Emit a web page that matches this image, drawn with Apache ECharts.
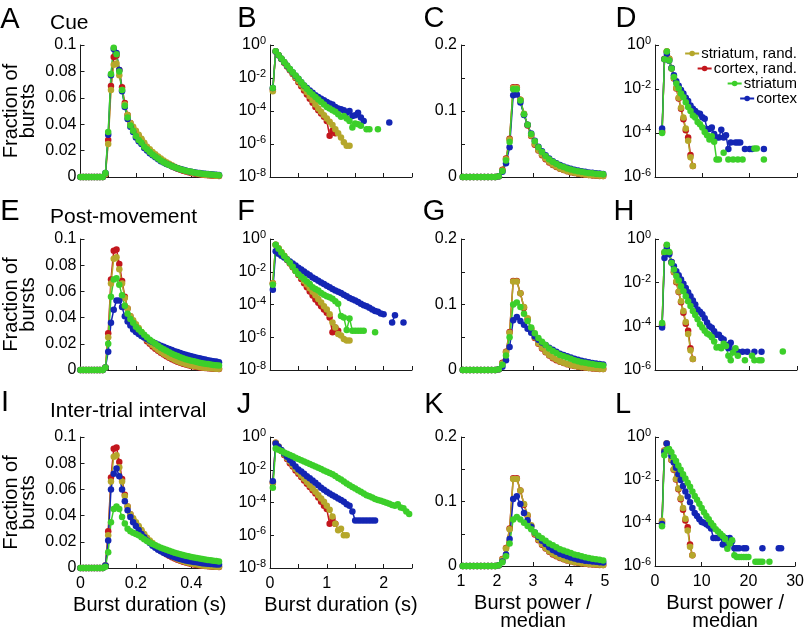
<!DOCTYPE html>
<html><head><meta charset="utf-8">
<script src="https://cdn.jsdelivr.net/npm/echarts@6/dist/echarts.min.js"></script>
<style>html,body{margin:0;padding:0;background:#fff}#c{width:807px;height:632px}</style>
</head><body><div id="c"></div>
<script>
// ---------- categories / names ----------
const seriesNames = ['striatum, rand.', 'cortex, rand.', 'striatum', 'cortex'];
const panelLetters = ['A','B','C','D','E','F','G','H','I','J','K','L'];
const rowTitles = ['Cue', 'Post-movement', 'Inter-trial interval'];
const xNames = ['Burst duration (s)', 'Burst duration (s)', 'Burst power /\nmedian', 'Burst power /\nmedian'];
const yName = 'Fraction of\nbursts';

// ---------- x grids ----------
const durX = [0,0.01,0.02,0.03,0.04,0.05,0.06,0.07,0.08,0.09,0.1,0.11,0.12,0.13,0.14,0.15,0.16,0.17,0.18,0.19,0.2,0.21,0.22,0.23,0.24,0.25,0.26,0.27,0.28,0.29,0.3,0.31,0.32,0.33,0.34,0.35,0.36,0.37,0.38,0.39,0.4,0.41,0.42,0.43,0.44,0.45,0.46,0.47,0.48,0.49,0.5];
const logDurX = [0.05,0.1,0.15,0.2,0.25,0.3,0.35,0.4,0.45,0.5,0.55,0.6,0.65,0.7,0.75,0.8,0.85,0.9,0.95,1,1.05,1.1,1.15,1.2,1.25,1.3,1.35,1.4,1.45,1.5,1.55,1.6,1.65,1.7,1.75,1.8,1.85,1.9,1.95,2,2.05,2.1,2.15,2.2,2.25,2.3,2.35,2.4,2.45];
const powX = [1.05,1.15,1.25,1.35,1.45,1.55,1.65,1.75,1.85,1.95,2.05,2.15,2.25,2.35,2.45,2.55,2.65,2.75,2.85,2.95,3.05,3.15,3.25,3.35,3.45,3.55,3.65,3.75,3.85,3.95,4.05,4.15,4.25,4.35,4.45,4.55,4.65,4.75,4.85,4.95];
const powLogX = [1.5,2,2.5,3,3.5,4,4.5,5,5.5,6,6.5,7,7.5,8,8.5,9,9.5,10,10.5,11,11.5,12,12.5,13,13.5,14,14.5,15,15.5,16,16.5,17,17.5,18,18.5,19,19.5,20,20.5,21,21.5,22,22.5,23,23.5,24,24.5,25,25.5,26,26.5,27,27.5];

// ---------- burst duration, linear (A, E, I) ----------
const durRandStriatum = [0,0,0,0,0,0,0,0,0,0.002,0.025,0.066,0.085,0.086,0.077,0.066,0.055,0.047,0.041,0.038,0.035,0.032,0.029,0.026,0.023,0.021,0.019,0.0172,0.0155,0.014,0.0125,0.0112,0.01,0.0089,0.0078,0.0069,0.006,0.0053,0.0046,0.004,0.0035,0.003,0.0026,0.0022,0.0019,0.0017,0.0015,0.0013,0.0011,0.001,0.0009];
const durRandCortex = [0,0,0,0,0,0,0,0,0,0.002,0.028,0.069,0.091,0.092,0.081,0.068,0.056,0.047,0.041,0.037,0.034,0.031,0.028,0.025,0.022,0.02,0.018,0.0163,0.0147,0.0132,0.0118,0.0105,0.0093,0.0082,0.0072,0.0063,0.0055,0.0048,0.0042,0.0036,0.0031,0.0027,0.0023,0.002,0.0017,0.0015,0.0013,0.0011,0.001,0.0009,0.0008];
const A_striatum = [0,0,0,0,0,0,0,0,0,0.003,0.034,0.078,0.098,0.093,0.08,0.066,0.054,0.045,0.039,0.035,0.031,0.028,0.026,0.023,0.021,0.019,0.017,0.0155,0.014,0.0125,0.0112,0.01,0.009,0.0081,0.0073,0.0066,0.0059,0.0053,0.0048,0.0043,0.0039,0.0035,0.0031,0.0028,0.0025,0.0023,0.0021,0.0019,0.0017,0.0015,0.0014];
const A_cortex = [0,0,0,0,0,0,0,0,0,0.003,0.032,0.077,0.097,0.094,0.081,0.065,0.053,0.044,0.038,0.034,0.03,0.027,0.025,0.022,0.02,0.018,0.0165,0.015,0.0135,0.012,0.011,0.0099,0.009,0.0081,0.0073,0.0066,0.006,0.0054,0.0049,0.0044,0.004,0.0036,0.0033,0.003,0.0027,0.0025,0.0023,0.0021,0.0019,0.0017,0.0016];
const E_striatum = [0,0,0,0,0,0,0,0,0,0.002,0.02,0.056,0.069,0.07,0.065,0.057,0.049,0.043,0.039,0.036,0.033,0.031,0.029,0.027,0.025,0.023,0.0215,0.02,0.0185,0.017,0.0158,0.0146,0.0135,0.0125,0.0115,0.0106,0.0098,0.009,0.0083,0.0077,0.0071,0.0066,0.0061,0.0056,0.0052,0.0048,0.0045,0.0042,0.0039,0.0036,0.0034];
const E_cortex = [0,0,0,0,0,0,0,0,0,0.002,0.014,0.036,0.046,0.053,0.053,0.048,0.041,0.037,0.034,0.031,0.029,0.0275,0.026,0.0248,0.0236,0.0225,0.0214,0.0204,0.0195,0.0186,0.0177,0.0168,0.016,0.0152,0.0144,0.0137,0.013,0.0123,0.0117,0.0111,0.0105,0.0099,0.0094,0.0089,0.0084,0.008,0.0075,0.0071,0.0067,0.0064,0.006];
const I_striatum = [0,0,0,0,0,0,0,0,0,0.001,0.012,0.035,0.045,0.047,0.045,0.039,0.034,0.03,0.028,0.027,0.026,0.025,0.0235,0.022,0.0207,0.0195,0.0184,0.0174,0.0164,0.0155,0.0147,0.0139,0.0131,0.0124,0.0117,0.0111,0.0105,0.0099,0.0094,0.0089,0.0084,0.008,0.0076,0.0072,0.0068,0.0065,0.0062,0.0059,0.0056,0.0053,0.005];
const I_cortex = [0,0,0,0,0,0,0,0,0,0.002,0.021,0.06,0.072,0.076,0.07,0.06,0.051,0.044,0.039,0.035,0.032,0.029,0.026,0.0235,0.021,0.019,0.017,0.0155,0.014,0.0128,0.0117,0.0107,0.0098,0.009,0.0082,0.0075,0.0069,0.0063,0.0058,0.0054,0.005,0.0046,0.0043,0.004,0.0037,0.0035,0.0033,0.0031,0.0029,0.0027,0.0026];

// ---------- burst duration, log10 of fraction (B, F, J); null = no bursts ----------
const B_randStriatum = [-2.8,-0.38,-0.6,-0.83,-1.05,-1.28,-1.5,-1.72,-1.95,-2.18,-2.4,-2.63,-2.86,-3.1,-3.35,-3.6,-3.85,-4.05,-4.25,-4.45,-4.65,-4.85,-5.1,-5.35,-5.6,-5.9,-6.1,-6.1];
const B_randCortex = [-2.7,-0.4,-0.62,-0.85,-1.08,-1.3,-1.53,-1.76,-2.0,-2.25,-2.5,-2.75,-3.0,-3.25,-3.5,-3.75,-3.95,-4.15,-4.35,-4.6,-5.5,-5.2,-5.35];
const B_striatum = [-2.6,-0.38,-0.6,-0.82,-1.03,-1.24,-1.45,-1.65,-1.85,-2.05,-2.25,-2.45,-2.65,-2.85,-3.0,-3.15,-3.3,-3.45,-3.6,-3.75,-3.85,-3.95,-4.05,-4.2,-4.35,-4.3,-4.45,-4.6,-5.0,-4.75,-4.8,-4.9,null,-5.1,-5.1,null,null,-5.1];
const B_cortex = [-2.6,-0.4,-0.62,-0.84,-1.05,-1.26,-1.47,-1.67,-1.87,-2.05,-2.25,-2.45,-2.6,-2.75,-2.9,-3.05,-3.15,-3.25,-3.35,-3.45,-3.55,-3.6,-3.75,-3.85,-3.9,-3.95,-4.1,-4.0,-4.3,-4.25,-4.1,-4.4,-4.6,null,null,null,null,null,null,null,null,-4.7];
const F_randStriatum = [-2.7,-0.35,-0.57,-0.8,-1.02,-1.24,-1.46,-1.68,-1.9,-2.12,-2.34,-2.56,-2.78,-3.0,-3.22,-3.44,-3.66,-3.88,-4.1,-4.3,-4.6,-5.1,-5.4,-5.8,-5.9,-6.1,-6.2,-6.2];
const F_randCortex = [-2.7,-0.35,-0.58,-0.82,-1.05,-1.28,-1.5,-1.73,-1.96,-2.2,-2.45,-2.7,-2.95,-3.2,-3.45,-3.7,-3.9,-4.1,-4.3,-4.5,-4.8,-5.7,-5.4,-5.6];
const F_striatum = [-2.8,-0.35,-0.6,-0.82,-1.04,-1.25,-1.45,-1.7,-1.95,-2.15,-2.3,-2.45,-2.6,-2.75,-2.95,-3.05,-3.15,-3.3,-3.4,-3.5,-3.55,-3.65,-3.8,-3.95,-4.7,-4.8,-5.55,-4.85,-5.6,-5.6,-5.6,-5.6,-5.6,null,null,null,-5.7];
const F_cortex = [-3.1,-0.75,-0.9,-1.02,-1.13,-1.25,-1.37,-1.5,-1.62,-1.75,-1.87,-1.98,-2.1,-2.22,-2.35,-2.45,-2.55,-2.65,-2.75,-2.85,-2.95,-3.05,-3.15,-3.22,-3.3,-3.4,-3.5,-3.6,-3.68,-3.75,-3.85,-3.95,-4.05,-4.1,-4.2,-4.3,-4.4,-4.45,-4.55,-4.6,null,null,-5.1,-4.65,null,null,-5.1];
const J_randStriatum = [-2.8,-0.35,-0.58,-0.82,-1.05,-1.28,-1.5,-1.72,-1.95,-2.15,-2.35,-2.55,-2.75,-2.95,-3.15,-3.35,-3.55,-3.75,-3.95,-4.2,-4.45,-4.85,-5.3,-5.7,-5.6,-6.0,-6.0];
const J_randCortex = [-2.8,-0.35,-0.6,-0.85,-1.1,-1.35,-1.6,-1.8,-2.05,-2.25,-2.45,-2.65,-2.85,-3.05,-3.25,-3.45,-3.7,-3.95,-4.2,-4.4,-5.3,-5.0,-5.3];
const J_striatum = [-3.1,-0.7,-0.78,-0.86,-0.94,-1.02,-1.1,-1.18,-1.27,-1.35,-1.42,-1.5,-1.58,-1.65,-1.72,-1.8,-1.88,-1.96,-2.04,-2.12,-2.2,-2.28,-2.38,-2.5,-2.6,-2.72,-2.84,-2.95,-3.05,-3.15,-3.25,-3.35,-3.45,-3.55,-3.62,-3.7,-3.78,-3.84,-3.9,-3.95,-4.02,-4.08,-4.15,-4.2,-4.1,-4.3,-4.35,-4.55,-4.7];
const J_cortex = [-2.7,-0.4,-0.6,-0.8,-1.0,-1.2,-1.4,-1.6,-1.8,-1.98,-2.1,-2.25,-2.4,-2.52,-2.65,-2.8,-2.95,-3.1,-3.22,-3.35,-3.45,-3.55,-3.65,-3.75,-3.85,-3.95,-4.1,-4.2,-4.55,-5.1,-5.1,-5.1,-5.1,-5.1,-5.1,-5.1,-5.1];

// ---------- burst power / median, linear (C, G, K) ----------
const powRandStriatum = [0,0,0,0,0,0,0,0,0,0,0.001,0.01,0.027,0.057,0.135,0.135,0.117,0.096,0.079,0.063,0.05,0.041,0.034,0.028,0.023,0.019,0.016,0.013,0.011,0.009,0.0075,0.0063,0.0053,0.0044,0.0037,0.0031,0.0026,0.0022,0.0018,0.0015];
const powRandCortex = [0,0,0,0,0,0,0,0,0,0,0.001,0.011,0.028,0.058,0.136,0.136,0.117,0.095,0.078,0.062,0.049,0.04,0.033,0.027,0.022,0.018,0.015,0.0125,0.0105,0.0087,0.0072,0.006,0.005,0.0042,0.0035,0.0029,0.0024,0.002,0.0017,0.0014];
const C_striatum = [0,0,0,0,0,0,0,0,0,0,0.001,0.009,0.025,0.053,0.133,0.133,0.116,0.095,0.079,0.065,0.054,0.045,0.038,0.032,0.027,0.023,0.02,0.017,0.015,0.013,0.0115,0.01,0.0088,0.0078,0.007,0.0062,0.0055,0.005,0.0045,0.004];
const C_cortex = [0,0,0,0,0,0,0,0,0,0,0.001,0.008,0.021,0.045,0.124,0.125,0.113,0.094,0.079,0.066,0.055,0.046,0.039,0.033,0.028,0.024,0.021,0.018,0.016,0.014,0.0125,0.011,0.0097,0.0087,0.0078,0.007,0.0063,0.0057,0.0052,0.0047];
const G_striatum = [0,0,0,0,0,0,0,0,0,0,0.001,0.008,0.022,0.05,0.1,0.103,0.096,0.086,0.075,0.065,0.056,0.049,0.043,0.038,0.033,0.029,0.026,0.023,0.021,0.019,0.017,0.015,0.0135,0.012,0.011,0.01,0.009,0.0082,0.0075,0.0068];
const G_cortex = [0,0,0,0,0,0,0,0,0,0,0.001,0.005,0.015,0.035,0.076,0.081,0.075,0.069,0.063,0.057,0.051,0.046,0.042,0.038,0.034,0.031,0.028,0.025,0.023,0.021,0.019,0.017,0.0155,0.014,0.0128,0.0117,0.0107,0.0098,0.009,0.0083];
const K_striatum = [0,0,0,0,0,0,0,0,0,0,0.001,0.006,0.015,0.035,0.072,0.076,0.072,0.067,0.062,0.057,0.052,0.047,0.043,0.039,0.035,0.032,0.029,0.026,0.024,0.022,0.02,0.018,0.0165,0.015,0.0137,0.0125,0.0114,0.0104,0.0095,0.0087];
const K_cortex = [0,0,0,0,0,0,0,0,0,0,0.001,0.007,0.018,0.042,0.104,0.108,0.096,0.082,0.071,0.061,0.052,0.045,0.039,0.034,0.029,0.025,0.022,0.019,0.017,0.015,0.013,0.0115,0.0102,0.0092,0.0083,0.0076,0.007,0.0065,0.006,0.0056];

// ---------- burst power / median, log10 of fraction (D, H, L); null = no bursts ----------
const pLogRandStriatum = [-3.9,-0.65,-0.3,-0.62,-1.05,-1.5,-1.95,-2.4,-2.85,-3.3,-3.8,-4.35,-5.1,-5.5];
const pLogRandCortex = [-3.95,-0.63,-0.3,-0.63,-1.07,-1.52,-1.98,-2.43,-2.9,-3.38,-3.88,-4.2,-5.0,-5.5];
const D_striatum = [-4.0,-0.65,-0.3,-0.7,-1.07,-1.45,-1.75,-1.98,-2.2,-2.37,-2.6,-2.82,-3.0,-3.2,-3.3,-3.5,-3.6,-3.75,-3.95,-4.1,-4.3,-4.15,-4.4,-5.2,-5.2,null,-4.9,null,-5.2,null,-5.2,null,-5.2,null,-5.2,null,null,null,null,-4.7,-4.7,null,null,-5.2];
const D_cortex = [-3.8,-0.65,-0.4,-0.72,-1.05,-1.37,-1.65,-1.85,-2.05,-2.2,-2.4,-2.55,-2.75,-2.9,-3.0,-3.1,-3.13,-3.28,-3.35,-3.82,-3.82,-3.75,-4.05,-4.2,-4.2,-3.85,-4.2,-4.1,-4.73,-4.43,null,-4.43,-4.43,-4.43,null,-4.73,null,-4.73,-4.73,null,null,null,null,-4.73];
const H_striatum = [-3.85,-0.6,-0.26,-0.6,-1.1,-1.4,-1.7,-1.9,-2.16,-2.39,-2.62,-2.85,-3.07,-3.3,-3.48,-3.68,-3.9,-4.05,-4.2,-4.33,-4.38,-4.5,-4.7,-4.97,-4.95,-5.0,-4.8,-4.9,-5.35,-5.55,-5.2,-5.0,-5.35,null,null,-5.55,null,null,-5.35,-5.55,null,-5.55,-5.55,null,null,null,null,null,null,null,null,-5.15];
const H_cortex = [-4.05,-0.87,-0.44,-0.7,-1.05,-1.25,-1.48,-1.66,-1.86,-2.05,-2.24,-2.44,-2.62,-2.82,-3.0,-3.23,-3.33,-3.45,-3.63,-3.83,-4.0,-4.07,-4.23,-4.38,-4.38,-4.54,-4.6,-4.85,-5.0,-4.75,-5.16,null,-5.16,null,-5.16,null,-5.16,null,null,-5.16,null,null,-5.16];
const L_striatum = [-4.15,-0.85,-0.6,-0.56,-0.71,-0.94,-1.12,-1.32,-1.52,-1.73,-1.93,-2.13,-2.31,-2.54,-2.74,-2.92,-3.1,-3.3,-3.5,-3.68,-3.83,-4.0,-4.13,-4.29,-4.4,-4.5,-4.6,-4.74,-5.2,-4.95,-4.8,-5.5,-5.58,-5.58,-5.58,-5.58,-5.58,-5.58,null,null,-5.8,-5.8,-5.8,-5.8,null,null,-5.8];
const L_cortex = [-4.05,-0.7,-0.3,-0.6,-0.87,-1.17,-1.43,-1.73,-2.0,-2.28,-2.54,-2.77,-3.04,-3.3,-3.53,-3.68,-3.83,-3.95,-3.99,-4.06,-4.13,-4.26,-4.7,-4.7,-4.7,-4.6,-5.0,-4.7,-5.1,-4.7,-4.85,-5.17,-5.17,-5.17,null,-5.17,-5.17,null,null,null,null,null,null,-5.17,null,null,null,null,null,null,-5.17,-5.17];

// ---------- styling ----------
const FONT = "'Liberation Sans', Arial, Helvetica, sans-serif";
const colorOf = {'striatum, rand.':'#b5a72b','cortex, rand.':'#c3161d','striatum':'#3ccf2a','cortex':'#1426b4'};
const colLeft = [79, 270, 461, 655];
const colWidth = [140, 142, 144, 142];
const rowTop = [45, 239, 437];
const rowHeight = [132, 131, 131];

// panel definitions: [randStriatum, randCortex, striatum, cortex]
const panelData = [
  [durRandStriatum, durRandCortex, A_striatum, A_cortex],
  [B_randStriatum, B_randCortex, B_striatum, B_cortex],
  [powRandStriatum, powRandCortex, C_striatum, C_cortex],
  [pLogRandStriatum, pLogRandCortex, D_striatum, D_cortex],
  [durRandStriatum, durRandCortex, E_striatum, E_cortex],
  [F_randStriatum, F_randCortex, F_striatum, F_cortex],
  [powRandStriatum, powRandCortex, G_striatum, G_cortex],
  [pLogRandStriatum, pLogRandCortex, H_striatum, H_cortex],
  [durRandStriatum, durRandCortex, I_striatum, I_cortex],
  [J_randStriatum, J_randCortex, J_striatum, J_cortex],
  [powRandStriatum, powRandCortex, K_striatum, K_cortex],
  [pLogRandStriatum, pLogRandCortex, L_striatum, L_cortex]
];
const colX = [durX, logDurX, powX, powLogX];
const colIsLog = [false, true, false, true];

function near(a, b) { return Math.abs(a - b) < 1e-9; }
const xCfg = [
  {min:0, max:0.5, interval:0.1, fmt: v => (near(v,0)?'0':near(v,0.2)?'0.2':near(v,0.4)?'0.4':'')},
  {min:0, max:2.5, interval:0.5, fmt: v => (near(v,Math.round(v))?String(Math.round(v)):'')},
  {min:1, max:5, interval:1, fmt: v => String(Math.round(v))},
  {min:0, max:30, interval:10, fmt: v => String(Math.round(v))}
];
const supFmt = v => { const e = Math.round(Math.log10(v)); return '{b|10}{s|' + e + '}'; };
const yCfg = [
  {type:'value', min:0, max:0.1, interval:0.02, fmt: v => (near(v,0)?'0':String(Math.round(v*100)/100))},
  {type:'log', min:1e-8, max:1, logBase:100, fmt: supFmt},
  {type:'value', min:0, max:0.2, interval:0.05, fmt: v => (near(v,0)?'0':near(v,0.1)?'0.1':near(v,0.2)?'0.2':'')},
  {type:'log', min:1e-6, max:1, logBase:100, fmt: supFmt}
];

const axisLine = {show:true, lineStyle:{color:'#1a1a1a', width:1}};
const grids = [], xAxes = [], yAxes = [], series = [];
const drawOrder = [1, 0, 3, 2]; // cortex rand, striatum rand, cortex, striatum (on top)

for (let p = 0; p < 12; p++) {
  const row = Math.floor(p / 4), col = p % 4;
  grids.push({left: colLeft[col], top: rowTop[row], width: colWidth[col], height: rowHeight[row]});
  const xc = xCfg[col];
  xAxes.push({
    type:'value', gridIndex:p, min:xc.min, max:xc.max, interval:xc.interval,
    axisLine, splitLine:{show:false},
    axisTick:{show:true, inside:true, length:4, lineStyle:{color:'#1a1a1a'}},
    axisLabel:{show: row === 2, formatter: xc.fmt, fontSize:16, color:'#000', fontFamily:FONT, margin:8, showMaxLabel:true, showMinLabel:true},
    name: row === 2 ? xNames[col] : '', nameLocation:'middle', nameGap: 28,
    nameTextStyle:{fontSize:20, color:'#000', fontFamily:FONT, lineHeight:18, verticalAlign:'top'}
  });
  const yc = yCfg[col];
  const ya = {
    type: yc.type, gridIndex:p, min:yc.min, max:yc.max,
    axisLine, splitLine:{show:false},
    axisTick:{show:true, inside:true, length:4, lineStyle:{color:'#1a1a1a'}},
    axisLabel:{formatter: yc.fmt, fontSize:16, color:'#000', fontFamily:FONT, margin:4,
      rich:{b:{fontSize:16, fontFamily:FONT, color:'#000'}, s:{fontSize:11, fontFamily:FONT, color:'#000', verticalAlign:'top', padding:[0,0,8,0]}}},
    minorTick:{show:false}
  };
  if (yc.interval) ya.interval = yc.interval;
  if (yc.logBase) ya.logBase = yc.logBase;
  if (col === 0) {
    ya.name = yName; ya.nameLocation = 'middle'; ya.nameRotate = 90; ya.nameGap = 44;
    ya.nameTextStyle = {fontSize:20, color:'#000', fontFamily:FONT, lineHeight:17};
  }
  yAxes.push(ya);

  const xs = colX[col];
  for (const k of drawOrder) {
    const vals = panelData[p][k];
    const data = vals.map((v, i) => (v === null ? [xs[i], '-'] : [xs[i], colIsLog[col] ? Math.pow(10, v) : v]));
    series.push({
      name: seriesNames[k], type:'line', xAxisIndex:p, yAxisIndex:p, data,
      symbol:'circle', symbolSize:6.5, showSymbol:true, connectNulls:false,
      lineStyle:{width:1.5, color: colorOf[seriesNames[k]]},
      itemStyle:{color: colorOf[seriesNames[k]]},
      emphasis:{disabled:true}, silent:true, animation:false, clip:false
    });
  }
}

// panel letters and row titles
const letterPos = [[10,20],[247,19],[434,19],[626,19],[10,212],[246,212],[434,212],[624,212],[5,403],[244,405],[434,405],[623,405]];
const graphics = panelLetters.map((t, i) => ({
  type:'text', x: letterPos[i][0], y: letterPos[i][1],
  style:{text:t, fontSize:29, fontFamily:FONT, fill:'#000', textAlign:'center', textVerticalAlign:'middle'}
}));
const titleY = [23, 217, 411];
rowTitles.forEach((t, r) => graphics.push({
  type:'text', x:50, y:titleY[r],
  style:{text:t, fontSize:21, fontFamily:FONT, fill:'#000', textAlign:'left', textVerticalAlign:'middle'}
}));

const legends = seriesNames.map((n, i) => ({
  data:[n], right:10, top: 46 + i * 15, orient:'horizontal', padding:0, itemGap:0,
  itemWidth:14, itemHeight:7, selectedMode:false,
  textStyle:{fontSize:15, fontFamily:FONT, color:'#000', padding:[0,0,0,-3]}
}));

const chart = echarts.init(document.getElementById('c'), null, {renderer:'canvas'});
chart.setOption({
  animation:false, backgroundColor:'#fff',
  grid: grids, xAxis: xAxes, yAxis: yAxes, series,
  legend: legends, graphic: graphics
});
</script></body></html>
